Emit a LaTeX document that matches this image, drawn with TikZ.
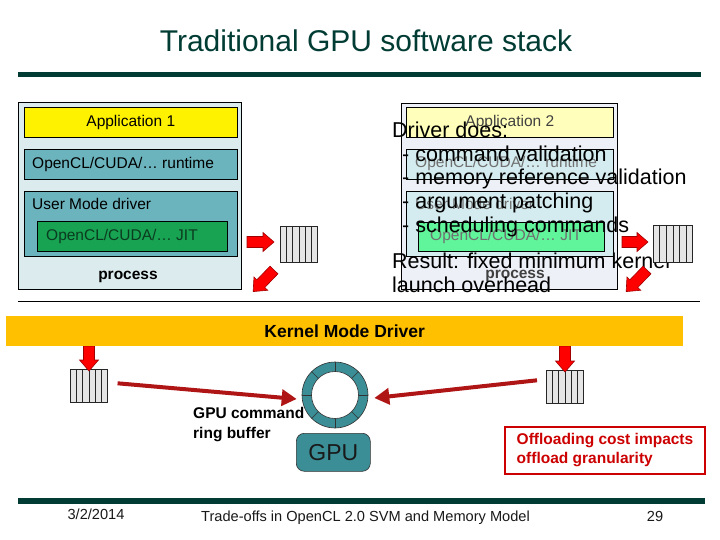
\documentclass[tikz,border=0pt]{standalone}
\usepackage{fontspec}
\setmainfont{Liberation Sans}
\usetikzlibrary{calc,arrows.meta}
\definecolor{titlegreen}{HTML}{003C33}
\definecolor{procbg}{HTML}{DCEBEE}
\definecolor{tealmid}{HTML}{6CB4BD}
\definecolor{jitgreen}{HTML}{18A352}
\definecolor{jittext}{HTML}{0B3B1F}
\definecolor{procbgb}{HTML}{EEF0F7}
\definecolor{appb}{HTML}{FFFFBB}
\definecolor{tealb}{HTML}{D4ECEF}
\definecolor{jitb}{HTML}{60F59B}
\definecolor{kmdcol}{HTML}{FFC000}
\definecolor{ringteal}{HTML}{3B8D96}
\definecolor{arrowedge}{HTML}{A00000}
\definecolor{bigred}{HTML}{B01515}
\definecolor{offred}{HTML}{CC0000}
\definecolor{fadetext}{HTML}{707070}
\definecolor{fadedark}{HTML}{404040}
\newcommand\setfs[2]{\fontsize{#1}{#2}\selectfont}
\newcommand\redblock[4]{%
  \begin{scope}[shift={(#1,#2)},rotate=#3]
    \filldraw[fill=red,draw=arrowedge,line width=0.6pt]
      (0,-5.5) -- (#4-11,-5.5) -- (#4-11,-9.5) -- (#4,0) -- (#4-11,9.5) -- (#4-11,5.5) -- (0,5.5) -- cycle;
  \end{scope}}
\tikzset{
  box/.style={draw=black,line width=0.6pt,anchor=north west,inner sep=0pt},
  lbl/.style={inner sep=0pt,font=\setfs{15.5}{18}},
  big/.style={inner sep=0pt,anchor=base west,font=\setfs{21.5}{24}},
  queue/.style={draw=black!85,fill=black!10,line width=0.6pt,anchor=north west,inner sep=0pt,minimum width=37pt,minimum height=36pt},
  bigarrow/.style={draw=bigred,line width=4pt,-{Triangle[length=15pt,width=16pt]}},
  footer/.style={inner sep=0pt,anchor=base,font=\setfs{14.6}{17},text=black!90}
}
\begin{document}
\begin{tikzpicture}[x=1pt,y=-1pt]
\useasboundingbox (0,0) rectangle (720,540);
\fill[white] (0,0) rectangle (720,540);

% title
\node[inner sep=0pt,anchor=base,font=\setfs{30}{34},text=titlegreen] (title) at (366,52) {Traditional GPU software stack};
\draw[titlegreen,line width=5pt] (18,74.5) -- (701,74.5);

% process 1
\node[box,fill=procbg,minimum width=223pt,minimum height=187pt] (p1) at (18,102) {};
\node[box,fill=yellow,minimum width=213pt,minimum height=30pt,font=\setfs{15.5}{18}] (app1) at (24,107) {Application 1};
\node[box,fill=tealmid,minimum width=213pt,minimum height=30pt] (rt1) at (24,149) {};
\node[lbl,anchor=west] (rt1t) at ([xshift=8pt]rt1.west) {OpenCL/CUDA/… runtime};
\node[box,fill=tealmid,minimum width=213pt,minimum height=65pt] (umd1) at (24,191) {};
\node[lbl,anchor=west] (umd1t) at (32,204) {User Mode driver};
\node[box,fill=jitgreen,minimum width=190pt,minimum height=30pt] (jit1) at (37,221) {};
\node[lbl,anchor=west,text=jittext] (jit1t) at (46,236) {OpenCL/CUDA/… JIT};
\node[lbl,font=\setfs{15.5}{18}\bfseries] (proc1) at (128,277) {process};

% process 2 (faded)
\node[box,fill=procbgb,minimum width=216pt,minimum height=186pt] (p2) at (401,103) {};
\node[box,fill=appb,minimum width=207pt,minimum height=30pt,font=\setfs{15.5}{18},text=fadedark] (app2) at (406,107) {Application 2};
\node[box,fill=tealb,minimum width=207pt,minimum height=30pt] (rt2) at (406,149) {};
\node[lbl,anchor=west,text=fadetext] (rt2t) at (415,163) {OpenCL/CUDA/… runtime};
\node[box,fill=tealb,minimum width=207pt,minimum height=65pt] (umd2) at (406,191) {};
\node[lbl,anchor=west,text=fadetext] (umd2t) at (415,204) {User Mode driver};
\node[box,fill=jitb,minimum width=186pt,minimum height=29pt] (jit2) at (418,222) {};
\node[lbl,anchor=west,text=fadetext] (jit2t) at (430,236) {OpenCL/CUDA/… JIT};
\node[lbl,font=\setfs{15.5}{18}\bfseries,text=fadedark] (proc2) at (515,276) {process};

% overlay text
\node[big] (d0) at (392,138) {Driver does:};
\node[big] (d1) at (402,161.5) {- command validation};
\node[big] (d2) at (402,185) {- memory reference validation};
\node[big] (d3) at (402,209) {- argument patching};
\node[big] (d4) at (402,233) {- scheduling commands};
\node[big] (r1) at (392,268) {Result: fixed minimum kernel};
\node[big] (r2) at (392,292) {launch overhead};

% queues
\node[queue] (qa) at (280,226) {};
\node[queue,minimum width=39pt,minimum height=37pt] (qb) at (653,225) {};
\node[queue,minimum height=33pt] (qc) at (70,369) {};
\node[queue,minimum height=33pt] (qd) at (546,370) {};
\foreach \q in {qa,qb,qc,qd}
  \foreach \i in {1,...,5}
    \draw[black!85,line width=0.5pt] ($(\q.north west)!\i/6!(\q.north east)$) -- ($(\q.south west)!\i/6!(\q.south east)$);

% red block arrows
\redblock{247}{242}{0}{27}
\redblock{274}{270}{226}{30}
\redblock{622}{242}{0}{26}
\redblock{647}{270}{226}{30}
\redblock{89}{346}{-90}{25}
\redblock{565}{346}{-90}{26}

% separator line
\draw[black,line width=0.8pt] (18,301) -- (700,301);

% kernel mode driver
\node[anchor=north west,fill=kmdcol,minimum width=677pt,minimum height=30pt,inner sep=0pt,font=\setfs{17.5}{20}\bfseries] (kmd) at (6,316) {Kernel Mode Driver};

% ring buffer
\node[circle,minimum size=66pt,inner sep=0pt,fill=ringteal,draw=black!80,line width=0.6pt] (ring) at (335,395) {};
\filldraw[fill=white,draw=black!80,line width=0.6pt] (ring.center) circle (23.5pt);
\foreach \a in {0,45,...,315}
  \draw[black!80,line width=0.6pt] ($(ring.center)+(\a:23.5pt)$) -- ($(ring.center)+(\a:33pt)$);

% big arrows
\draw[bigarrow] ([xshift=10pt,yshift=2.5pt]qc.east) -- ([xshift=-5pt,yshift=-4pt]ring.west);
\draw[bigarrow] ([xshift=-9pt,yshift=6.5pt]qd.west) -- ([xshift=6pt,yshift=-3pt]ring.east);

% labels
\node[inner sep=0pt,anchor=west,align=left,font=\setfs{15.5}{20}\bfseries] (rbl) at (193,425) {GPU command\\ring buffer};
\node[draw=black!80,fill=ringteal,rounded corners=8pt,line width=0.6pt,minimum width=74pt,minimum height=38pt,anchor=north west,inner sep=0pt,font=\setfs{23}{25},text=black!90] (gpu) at (296,433) {GPU};
\node[draw=offred,line width=2pt,fill=white,minimum width=200pt,minimum height=47pt,anchor=north west,inner sep=0pt,align=left,font=\setfs{15.5}{19}\bfseries,text=offred] (off) at (504,426) {Offloading cost impacts\\offload granularity};

% footer
\draw[titlegreen,line width=6pt] (18,500.5) -- (705,500.5);
\node[footer] (date) at (96,519) {3/2/2014};
\node[footer] (foot) at (365.5,521) {Trade-offs in OpenCL 2.0 SVM and Memory Model};
\node[footer] (page) at (655,521) {29};
\end{tikzpicture}
\end{document}
